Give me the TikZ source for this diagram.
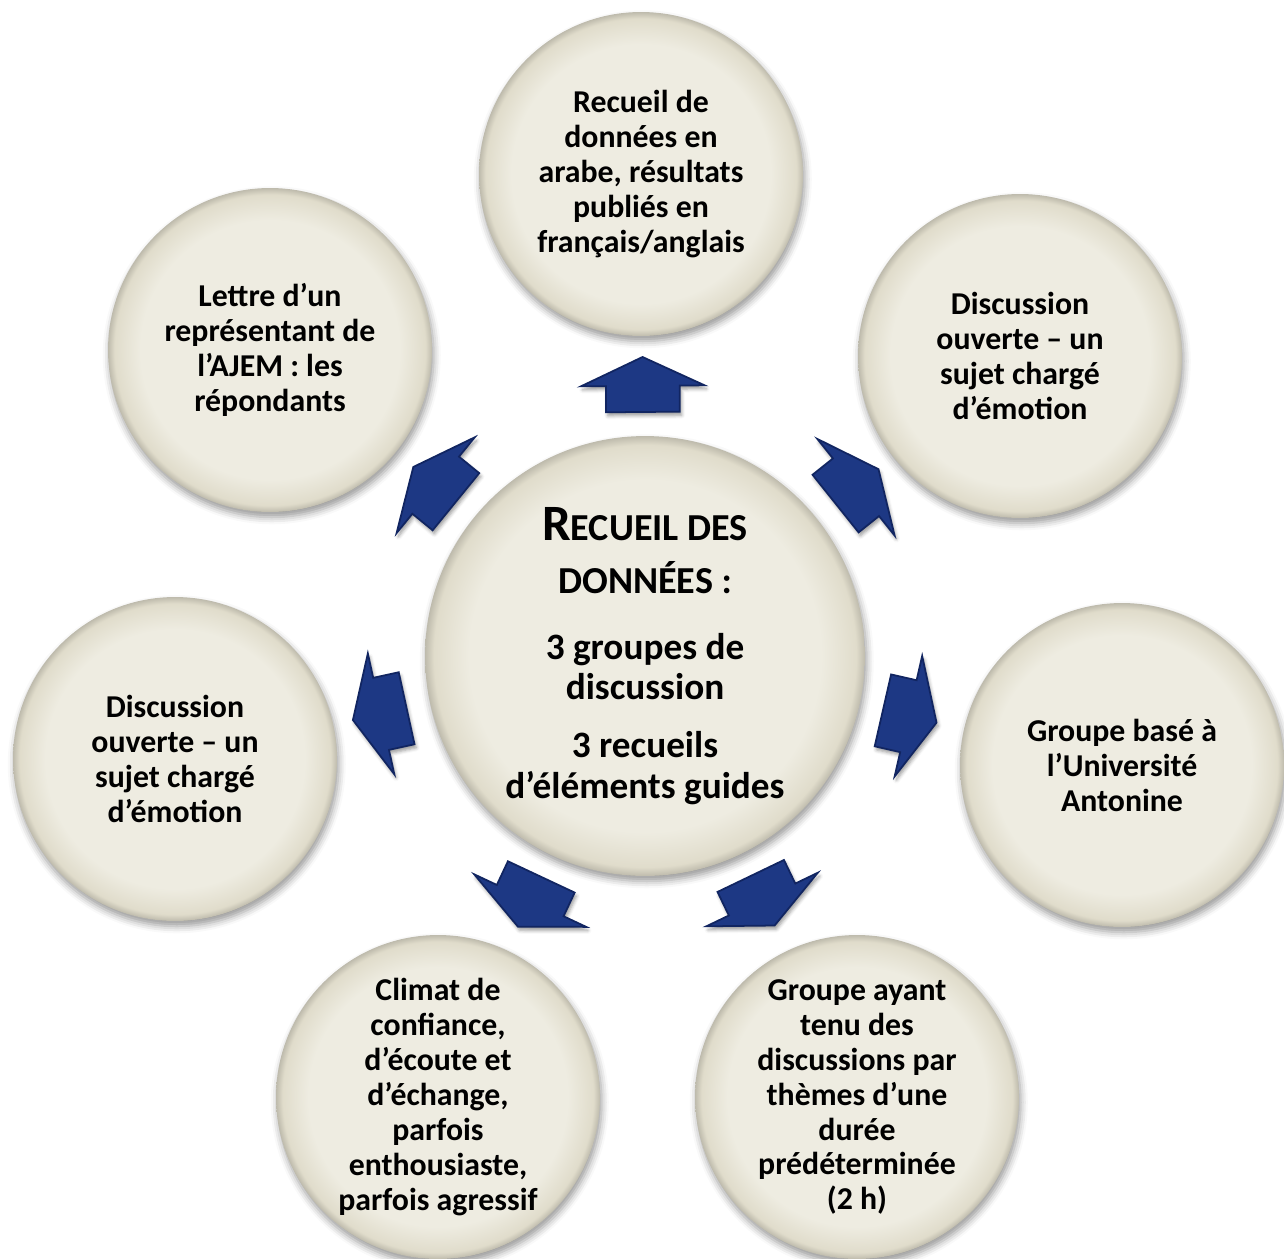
\documentclass[tikz,border=0pt]{standalone}
\usepackage{fontspec}
\setmainfont{Carlito}
\usepackage{tikz}
\usetikzlibrary{calc,shapes.arrows,shadows.blur}

\definecolor{tanfill}{HTML}{EEECE1}
\definecolor{tanedge}{HTML}{E0DCCB}
\definecolor{navyarr}{HTML}{1D3884}
\definecolor{navyedge}{HTML}{112561}

\pgfdeclareradialshading{bevelball}{\pgfpoint{0bp}{0bp}}{color(0bp)=(tanfill); color(20bp)=(tanfill); color(24bp)=(tanedge); color(25bp)=(tanedge!85!black); color(50bp)=(tanedge!85!black)}

\tikzset{
  bubble/.style={circle, shading=bevelball, minimum size=6.48cm, inner sep=0pt, align=center,
    font=\bfseries\fontsize{18.1}{19.9}\selectfont,
    blur shadow={shadow xshift=1pt, shadow yshift=-3pt, shadow blur radius=4pt, shadow opacity=40}},
  hub/.style={bubble, minimum size=8.8cm, font=\bfseries\fontsize{21.2}{22.7}\selectfont},
  blockarr/.style={single arrow, fill=navyarr, draw=navyedge, line width=1pt, inner xsep=0pt, inner ysep=0.72cm,
    minimum height=1.1cm, single arrow head extend=0.5cm, single arrow tip angle=130,
    blur shadow={shadow xshift=1pt, shadow yshift=-2pt, shadow blur radius=2pt, shadow opacity=40}}
}

\begin{document}
\begin{tikzpicture}[x=0.02cm, y=-0.02cm]
% Frame (pixel grid, y downwards)
\useasboundingbox (0,0) rectangle (1284,1258);

% Centre
\node[hub] (ctr) at (645,656) {{\fontsize{29}{24}\selectfont R}{\fontsize{21.7}{20}\selectfont ECUEIL DES}\\[7.4pt]
  {\fontsize{21.7}{20}\selectfont DONNÉES} :\\[14.8pt]
  3 groupes de\\ discussion\\[10.2pt]
  3 recueils\\[0.6pt] d’éléments guides};

% Outer bubbles
\node[bubble] (c1) at (641,174) {Recueil de\\ données en\\ arabe, résultats\\ publiés en\\ français/anglais};
\node[bubble] (c2) at (1020,356) {Discussion\\ ouverte – un\\ sujet chargé\\ d’émotion};
\node[bubble] (c3) at (1122,765) {Groupe basé à\\ l’Université\\ Antonine};
\node[bubble] (c4) at (857,1097) {Groupe ayant\\ tenu des\\ discussions par\\ thèmes d’une\\ durée\\ prédéterminée\\ (2 h)};
\node[bubble] (c5) at (438,1097) {Climat de\\ confiance,\\ d’écoute et\\ d’échange,\\ parfois\\ enthousiaste,\\ parfois agressif};
\node[bubble] (c6) at (175,759) {Discussion\\ ouverte – un\\ sujet chargé\\ d’émotion};
\node[bubble] (c7) at (270,350) {Lettre d’un\\ représentant de\\ l’AJEM : les\\ répondants};

% Arrows from the centre
\foreach \c in {c1,c2,c3,c4,c5,c6,c7}
  \path let \p1 = ($(\c)-(ctr)$), \n1 = {atan2(\y1,\x1)} in
    node[blockarr, rotate=\n1] (arr-\c) at ($(ctr)!5.26cm!(\c)$) {};
\end{tikzpicture}
\end{document}
